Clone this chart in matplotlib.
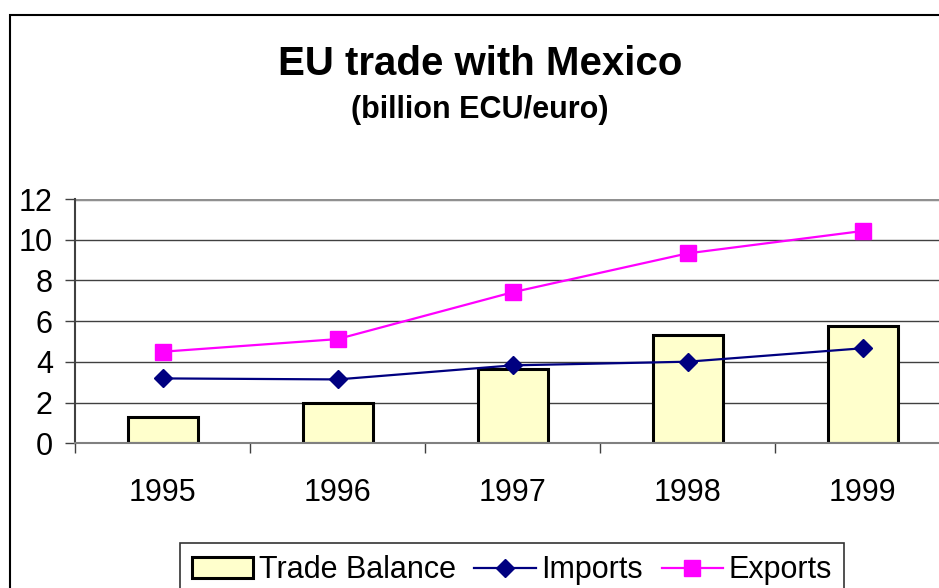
import matplotlib.pyplot as plt
from matplotlib.patches import Rectangle

plt.rcParams['font.family'] = ['Liberation Sans', 'DejaVu Sans']

years = ['1995', '1996', '1997', '1998', '1999']
trade_balance = [1.31, 1.99, 3.63, 5.32, 5.76]
imports = [3.19, 3.14, 3.83, 4.01, 4.67]
exports = [4.50, 5.12, 7.42, 9.33, 10.43]

fig = plt.figure(figsize=(9.39, 5.88), dpi=100)
ax = fig.add_axes([75 / 939, 0.246, 875 / 939, 0.4155])

x = range(len(years))
b = ax.bar(x, trade_balance, width=0.4, color='#FFFFCC', edgecolor='black',
           linewidth=2.2, label='Trade Balance', zorder=2)
l1, = ax.plot(x, imports, color='#000080', marker='D', markersize=9.5, linewidth=1.6,
              label='Imports', zorder=3)
l2, = ax.plot(x, exports, color='#FF00FF', marker='s', markersize=11, linewidth=1.6,
              label='Exports', zorder=3)

ax.set_xlim(-0.5, 4.5)
ax.set_ylim(0, 12)
ax.set_yticks(range(0, 13, 2))
ax.set_xticks(list(x))
ax.set_xticklabels(years)
ax.set_xticks([i - 0.5 for i in range(6)], minor=True)
ax.tick_params(axis='x', which='major', length=0, pad=25, labelsize=22)
ax.tick_params(axis='x', which='minor', length=7, width=1, color='#404040', direction='out')
ax.tick_params(axis='y', length=7, width=1, color='#404040', labelsize=22, pad=9)
ax.yaxis.grid(True, color='#404040', linewidth=1)
ax.set_axisbelow(True)
for s in ['top', 'right']:
    ax.spines[s].set_visible(False)
ax.spines['left'].set_color('#404040')
ax.spines['left'].set_linewidth(1.5)
ax.spines['bottom'].set_color('#808080')
ax.spines['bottom'].set_linewidth(1.5)
ax.axhline(12, color='#909090', linewidth=2.5, zorder=1)

fig.text(0.511, 0.891, 'EU trade with Mexico', ha='center', va='center',
         fontsize=29, fontweight='bold')
fig.text(0.511, 0.813, '(billion ECU/euro)', ha='center', va='center',
         fontsize=22, fontweight='bold')

fig.patches.append(Rectangle((10 / 939, -0.1), 1.1, 0.1 + (588 - 15) / 588,
                             transform=fig.transFigure, fill=False,
                             edgecolor='black', linewidth=1.5))

leg = fig.legend([b, l1, l2], ['Trade Balance', 'Imports', 'Exports'],
                 loc='upper center', bbox_to_anchor=(512 / 939, 0.0765),
                 ncol=3, fontsize=22, frameon=True, fancybox=False,
                 borderaxespad=0, handlelength=2.0, handletextpad=0.2,
                 columnspacing=0.6, borderpad=0.4)
leg.get_frame().set_edgecolor('black')
leg.get_frame().set_linewidth(1.2)

fig.savefig('out.png', dpi=100)
